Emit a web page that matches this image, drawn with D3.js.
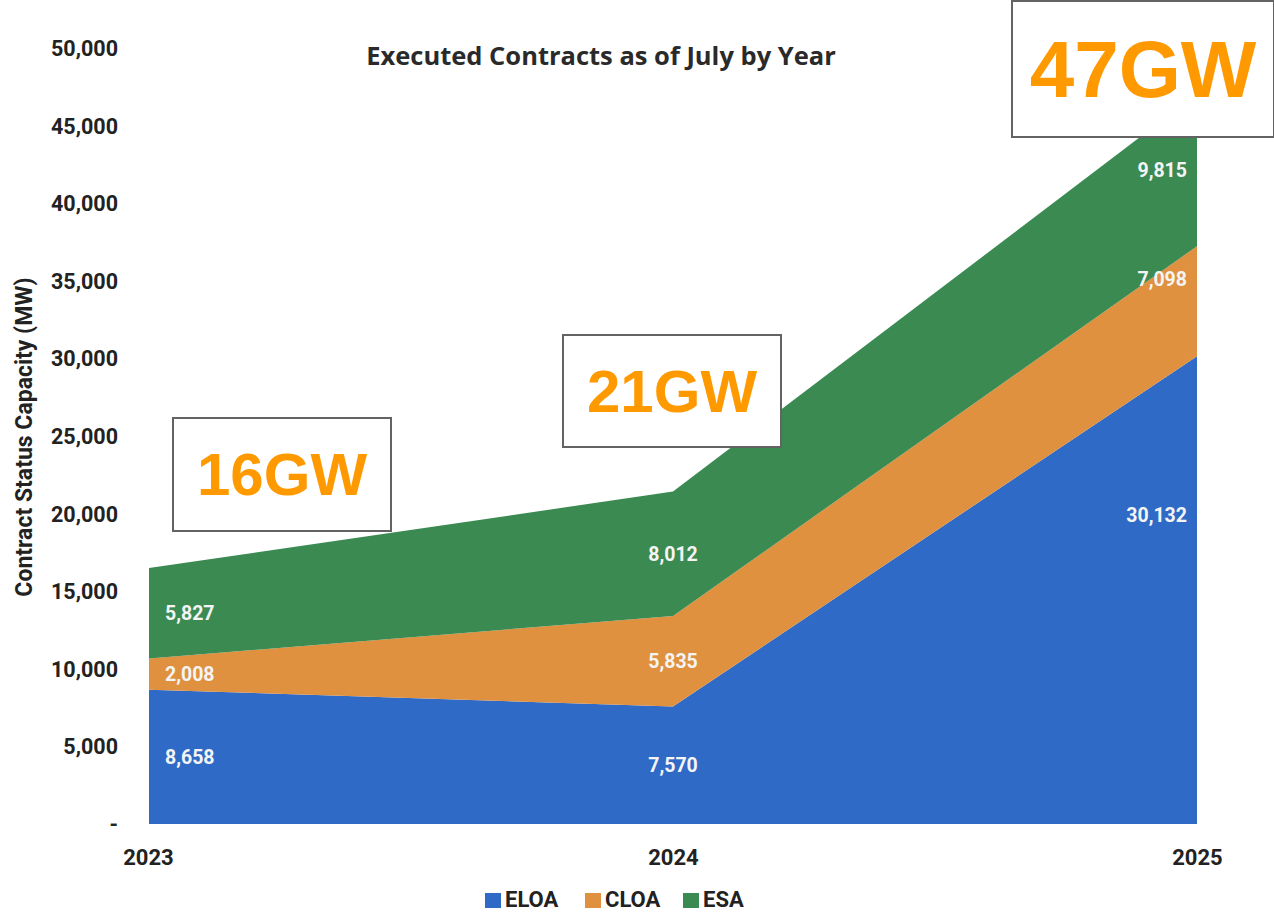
<!DOCTYPE html>
<html><head><meta charset="utf-8">
<script src="https://cdn.jsdelivr.net/npm/d3@7"></script>
<style>
html,body{margin:0;padding:0;background:#fff;}
svg{display:block;}
</style></head>
<body><svg id="c" width="1274" height="914"></svg>
<script>
const years = ["2023","2024","2025"];
const seriesNames = ["ELOA","CLOA","ESA"];
const eloa = [8658, 7570, 30132];
const cloa = [2008, 5835, 7098];
const esa  = [5827, 8012, 9815];
const yTicks = [0,5000,10000,15000,20000,25000,30000,35000,40000,45000,50000];
const callouts = ["16GW","21GW","47GW"];
const colors = ["#2f6ac6","#df913f","#3a8a52"];

const svg = d3.select("#c");
const x = d3.scalePoint().domain(years).range([149,1197]);
const y = d3.scaleLinear().domain([0,50000]).range([824,48]);

const rows = years.map((yr,i)=>({year:yr, ELOA:eloa[i], CLOA:cloa[i], ESA:esa[i]}));
const stacked = d3.stack().keys(seriesNames)(rows);

const area = d3.area().x(d=>x(d.data.year)).y0(d=>y(d[0])).y1(d=>y(d[1]));
svg.append("g").selectAll("path").data(stacked).join("path")
  .attr("d",area).attr("fill",(d,i)=>colors[i]);

const FF = "Roboto, 'Open Sans', sans-serif";

// y axis
const yAxis = d3.axisLeft(y).tickValues(yTicks).tickSize(0).tickPadding(0)
  .tickFormat(v=>v===0?"-":d3.format(",")(v));
const gy = svg.append("g").attr("transform","translate(118,0)").call(yAxis);
gy.select(".domain").remove();
gy.selectAll("text").attr("font-family",FF)
  .attr("font-weight","700").attr("font-size",21.5).attr("fill","#222").attr("dy","0.35em");

// x axis
const xAxis = d3.axisBottom(x).tickSize(0).tickPadding(0);
const gx = svg.append("g").attr("transform","translate(0,865)").call(xAxis);
gx.select(".domain").remove();
gx.selectAll("text").attr("font-family",FF)
  .attr("font-weight","700").attr("font-size",22).attr("fill","#222").attr("dy","0");
gx.selectAll(".tick").filter((d,i)=>i===0).select("text").attr("x",-1);

// y title
svg.append("text").attr("transform","translate(32,437) rotate(-90)")
  .attr("text-anchor","middle").attr("font-family",FF)
  .attr("font-weight","700").attr("font-size",23).attr("fill","#222")
  .text("Contract Status Capacity (MW)");

// title
svg.append("text").attr("x",601).attr("y",65).attr("text-anchor","middle")
  .attr("font-family","'Open Sans', sans-serif").attr("font-weight","700")
  .attr("font-size",25.5).attr("fill","#2a2a2a").text("Executed Contracts as of July by Year");

// data labels
const fmt = d3.format(",");
const anchors = ["start","middle","end"];
const dxs = [16,0,-10];
stacked.forEach((s,si)=>{
  s.forEach((d,i)=>{
    let mid = (d[0]+d[1])/2;
    if (si===0 && i===2) mid = d[1]*0.66;
    if (si===1 && i===2) mid = d[1]-(d[1]-d[0])*0.3;
    svg.append("text").attr("x",x(d.data.year)+dxs[i]).attr("y",y(mid))
      .attr("dy","0.35em").attr("text-anchor",anchors[i])
      .attr("font-family",FF).attr("font-weight","700")
      .attr("font-size",19.5).attr("fill","#f4f4f4").text(fmt(d.data[seriesNames[si]]));
  });
});

// legend
const legX = [485,585,683];
const lg = svg.append("g");
seriesNames.forEach((n,i)=>{
  lg.append("rect").attr("x",legX[i]).attr("y",893).attr("width",16).attr("height",15).attr("fill",colors[i]);
  lg.append("text").attr("x",legX[i]+20).attr("y",907)
    .attr("font-family",FF).attr("font-weight","700")
    .attr("font-size",22).attr("fill","#222").text(n);
});

// callout boxes
const boxes = [
  {x:173,y:418,w:218,h:113,fs:60,ty:495},
  {x:563,y:335,w:218,h:112,fs:60,ty:412},
  {x:1012,y:1,w:262,h:136,fs:80,ty:97}
];
boxes.forEach((b,i)=>{
  svg.append("rect").attr("x",b.x).attr("y",b.y).attr("width",b.w).attr("height",b.h)
    .attr("fill","#fff").attr("stroke","#636363").attr("stroke-width",2);
  svg.append("text").attr("x",b.x+b.w/2).attr("y",b.ty).attr("text-anchor","middle")
    .attr("font-family","'Liberation Sans', Arial, sans-serif").attr("font-weight","700")
    .attr("font-size",b.fs).attr("fill","#ff9900").text(callouts[i]);
});
</script></body></html>
